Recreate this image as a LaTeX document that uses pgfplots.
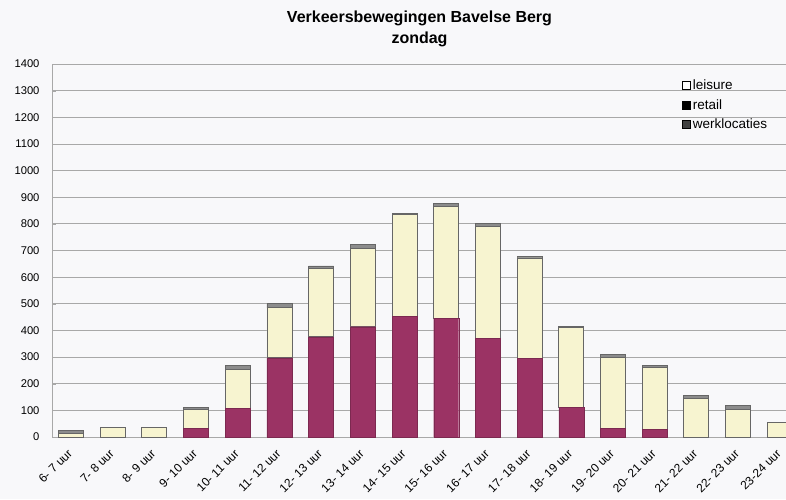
\documentclass[border=0pt]{standalone}
\usepackage{fontspec}
\setmainfont{Liberation Sans}
\usepackage{pgfplots}
\pgfplotsset{compat=1.18}
\definecolor{retail}{HTML}{9B3364}
\definecolor{leisure}{HTML}{F7F4D0}
\definecolor{werk}{HTML}{8C8C8C}
\definecolor{gridc}{HTML}{A8A8A8}
\definecolor{bg}{HTML}{F8F8FA}
\begin{document}
\begin{tikzpicture}[x=1pt,y=1pt]
\fill[bg] (0,0) rectangle (786,499);
\useasboundingbox (0,0) rectangle (786,499);
\begin{axis}[
  at={(52pt,62pt)}, anchor=south west,
  scale only axis, width=734pt, height=373pt,
  ybar stacked, bar width=0.6,
  xmin=-0.456, xmax=17.15, ymin=0, ymax=1400,
  ytick={0,100,...,1400},
  xtick={0,...,17},
  xticklabels={6- 7 uur,7- 8 uur,8- 9 uur,9- 10 uur,10- 11 uur,11- 12 uur,12- 13 uur,13- 14 uur,14- 15 uur,15- 16 uur,16- 17 uur,17- 18 uur,18- 19 uur,19- 20 uur,20- 21 uur,21- 22 uur,22- 23 uur,23-24 uur},
  x tick label style={xshift=-4pt, yshift=-10pt, rotate=45, anchor=north east, font=\fontsize{12}{14}\selectfont, inner sep=1pt},
  y tick label style={font=\fontsize{11.2}{13}\selectfont, xshift=-9pt},
  /pgf/number format/assume math mode=true,
  /pgf/number format/1000 sep={},
  ymajorgrids, grid style={gridc, line width=0.8pt},
  axis x line*=bottom, axis y line*=left,
  axis line style={-, gridc, line width=1pt},
  major tick length=4pt,
  xtick style={draw=none},
  ytick style={gridc},
  legend style={at={(0.858,0.9625)}, anchor=north west, draw=none, fill=none,
    font=\fontsize{13.5}{15}\selectfont, row sep=4pt, inner sep=0pt,
    /tikz/every even column/.append style={column sep=2pt}},
  legend cell align=left,
  legend image code/.code={\draw[#1] (0pt,-4pt) rectangle (8pt,4pt);},
]
\addplot[fill=retail, draw=retail!80!black, line width=0.4pt, forget plot] coordinates {
(0,0) (1,0) (2,0) (3,33) (4,108) (5,297) (6,376) (7,414) (8,454) (9,445) (10,370) (11,295) (12,110) (13,33) (14,30) (15,0) (16,0) (17,0)};
\addplot[fill=leisure, draw=black!60, line width=0.9pt, forget plot] coordinates {
(0,15) (1,35) (2,35) (3,70) (4,145) (5,188) (6,258) (7,295) (8,380) (9,420) (10,420) (11,377) (12,300) (13,266) (14,232) (15,145) (16,105) (17,55)};
\addplot[fill=werk, draw=black!60, line width=0.9pt, forget plot] coordinates {
(0,8) (1,0) (2,0) (3,8) (4,14) (5,16) (6,8) (7,12) (8,6) (9,12) (10,12) (11,7) (12,4) (13,9) (14,8) (15,12) (16,12) (17,0)};
\addlegendimage{draw=black, fill=white, line width=1pt}
\addlegendentry{leisure}
\addlegendimage{draw=black, fill=black}
\addlegendentry{retail}
\addlegendimage{draw=black, fill=black!75, line width=1pt}
\addlegendentry{werklocaties}
\end{axis}
\node[font=\bfseries\fontsize{16}{18}\selectfont] at (419.5,481) {Verkeersbewegingen Bavelse Berg};
\node[font=\bfseries\fontsize{16}{18}\selectfont] at (419.5,460) {zondag};
\end{tikzpicture}
\end{document}
